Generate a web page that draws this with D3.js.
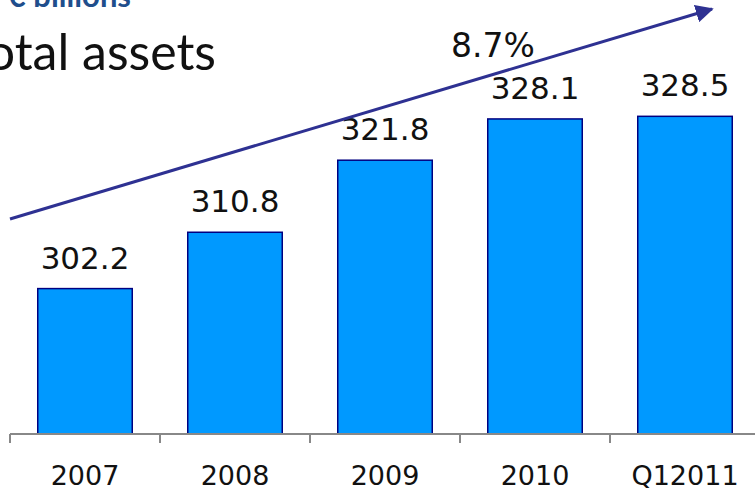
<!DOCTYPE html>
<html>
<head>
<meta charset="utf-8">
<script src="https://cdn.jsdelivr.net/npm/d3@7"></script>
<style>
  html, body { margin: 0; padding: 0; background: #fff; }
  svg { display: block; }
</style>
</head>
<body>
<div id="chart"></div>
<script>
// Total assets, € billions
const categories = ["2007", "2008", "2009", "2010", "Q12011"];
const totalAssets = [302.2, 310.8, 321.8, 328.1, 328.5];
const growthLabel = "8.7%";
const unitLabel = "€ billions";
const titleText = "Total assets";

const W = 755, H = 491;
const svg = d3.select("#chart").append("svg")
  .attr("width", W).attr("height", H);

const x = d3.scaleBand()
  .domain(categories)
  .range([10, 760])
  .paddingInner(0.37)
  .paddingOuter(0.185);

const y = d3.scaleLinear()
  .domain([280, 340])
  .range([434, 41]);

// unit label (partly above the top edge)
svg.append("text")
  .attr("x", 131).attr("y", 7)
  .attr("text-anchor", "end")
  .attr("font-family", "Lato, sans-serif")
  .attr("font-weight", 700)
  .attr("font-size", 31)
  .attr("fill", "#1f4e8c")
  .text(unitLabel);

// title
svg.append("text")
  .attr("x", 216).attr("y", 70)
  .attr("text-anchor", "end")
  .attr("font-family", "Lato, sans-serif")
  .attr("font-size", 50)
  .attr("fill", "#111")
  .text(titleText);

// bars
svg.append("g").selectAll("rect")
  .data(categories)
  .join("rect")
  .attr("x", d => x(d))
  .attr("width", x.bandwidth())
  .attr("y", (d, i) => y(totalAssets[i]))
  .attr("height", (d, i) => y(280) - y(totalAssets[i]))
  .attr("fill", "#0099ff")
  .attr("stroke", "#000080")
  .attr("stroke-width", 1.5);

// value labels
svg.append("g").selectAll("text")
  .data(categories)
  .join("text")
  .attr("x", d => x(d) + x.bandwidth() / 2)
  .attr("y", (d, i) => y(totalAssets[i]) - 20)
  .attr("text-anchor", "middle")
  .attr("font-family", "DejaVu Sans, sans-serif")
  .attr("font-size", 31)
  .attr("fill", "#111")
  .text((d, i) => totalAssets[i].toFixed(1));

// x axis
const axis = d3.axisBottom(x).tickSize(0).tickFormat("");
const gx = svg.append("g").attr("transform", "translate(0,434)").call(axis);
gx.select(".domain").remove();
gx.append("line")
  .attr("x1", 10).attr("x2", W)
  .attr("stroke", "#888").attr("stroke-width", 2);
const step = x.step();
const boundaries = d3.range(categories.length + 1).map(i => 10 + i * step);
gx.selectAll(".bound")
  .data(boundaries)
  .join("line")
  .attr("class", "bound")
  .attr("x1", d => d).attr("x2", d => d)
  .attr("y1", 0).attr("y2", 9)
  .attr("stroke", "#888").attr("stroke-width", 2);

svg.append("g").selectAll("text")
  .data(categories)
  .join("text")
  .attr("x", d => x(d) + x.bandwidth() / 2)
  .attr("y", 485)
  .attr("text-anchor", "middle")
  .attr("font-family", "DejaVu Sans, sans-serif")
  .attr("font-size", 27)
  .attr("fill", "#111")
  .text(d => d);

// growth arrow
const defs = svg.append("defs");
defs.append("marker")
  .attr("id", "arrowhead")
  .attr("viewBox", "0 0 10 10")
  .attr("refX", 9).attr("refY", 5)
  .attr("markerWidth", 6).attr("markerHeight", 6)
  .attr("markerUnits", "strokeWidth")
  .attr("orient", "auto")
  .append("path")
  .attr("d", "M0,0 L10,5 L0,10 Z")
  .attr("fill", "#2e3192");

svg.append("line")
  .attr("x1", 10).attr("y1", 219)
  .attr("x2", 712).attr("y2", 9)
  .attr("stroke", "#2e3192")
  .attr("stroke-width", 3)
  .attr("marker-end", "url(#arrowhead)");

svg.append("text")
  .attr("x", 493).attr("y", 57)
  .attr("text-anchor", "middle")
  .attr("font-family", "DejaVu Sans, sans-serif")
  .attr("font-size", 33)
  .attr("fill", "#111")
  .text(growthLabel);
</script>
</body>
</html>
